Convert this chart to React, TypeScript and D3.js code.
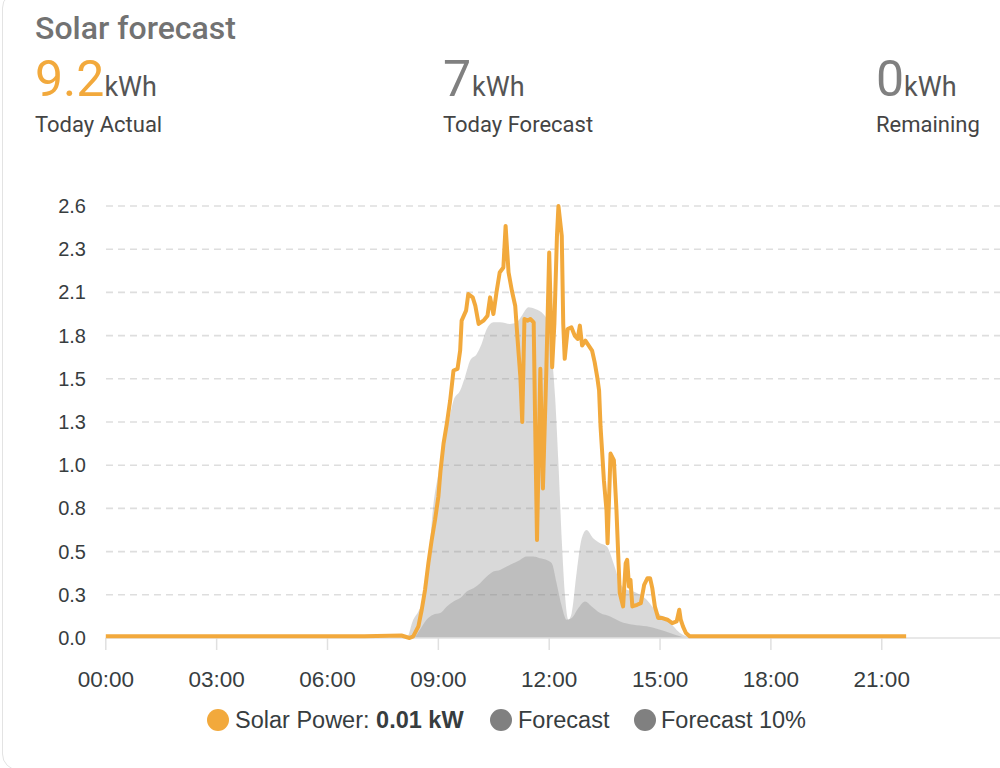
import * as d3 from 'd3';

// x-axis tick labels (every 3 hours)
const timeTicks = ['00:00', '03:00', '06:00', '09:00', '12:00', '15:00', '18:00', '21:00'];
// y-axis tick labels, bottom to top
const yTickLabels = ['0.0', '0.3', '0.5', '0.8', '1.0', '1.3', '1.5', '1.8', '2.1', '2.3', '2.6'];

// Solar Power (kW), time in decimal hours
const solarHours = [
  0, 1.5, 3, 4.5, 6, 7, 8, 8.22, 8.32, 8.46, 8.55, 8.64, 8.73, 8.82, 8.91, 9.0, 9.06, 9.14, 9.23,
  9.32, 9.41, 9.52, 9.59, 9.63, 9.75, 9.81, 9.93, 10.0, 10.09, 10.22, 10.33, 10.4, 10.49, 10.58,
  10.66, 10.76, 10.82, 10.9, 10.99, 11.08, 11.14, 11.22, 11.27, 11.33, 11.42, 11.49, 11.58, 11.62,
  11.67, 11.76, 11.83, 11.92, 12.0, 12.08, 12.14, 12.21, 12.25, 12.34, 12.38, 12.42, 12.5, 12.6,
  12.69, 12.77, 12.83, 12.89, 12.98, 13.07, 13.16, 13.23, 13.3, 13.35, 13.39, 13.43, 13.48, 13.55,
  13.58, 13.66, 13.75, 13.82, 13.87, 13.91, 14.0, 14.07, 14.11, 14.16, 14.2, 14.25, 14.38, 14.48,
  14.57, 14.66, 14.73, 14.79, 14.86, 14.95, 15.06, 15.2, 15.33, 15.45, 15.52, 15.56, 15.62, 15.7,
  15.8, 16.5, 18, 19.5, 21, 21.66,
];
const solarValues = [
  0.01, 0.01, 0.01, 0.01, 0.01, 0.01, 0.015, 0.0, 0.01, 0.07, 0.17, 0.29, 0.45, 0.59, 0.71, 0.85,
  1.01, 1.17, 1.29, 1.43, 1.61, 1.62, 1.73, 1.91, 1.97, 2.07, 2.05, 2.0, 1.89, 1.91, 1.94, 2.05,
  1.95, 2.09, 2.2, 2.23, 2.48, 2.2, 2.09, 2.0, 1.81, 1.57, 1.3, 1.92, 1.91, 1.92, 1.9, 1.29, 0.59,
  1.62, 0.9, 1.59, 2.32, 1.63, 1.89, 2.42, 2.6, 2.42, 1.89, 1.68, 1.86, 1.87, 1.82, 1.8, 1.88, 1.76,
  1.79, 1.76, 1.73, 1.66, 1.57, 1.49, 1.27, 1.13, 0.95, 0.77, 0.57, 1.11, 1.07, 0.77, 0.49, 0.27,
  0.19, 0.45, 0.47, 0.31, 0.35, 0.19, 0.2, 0.21, 0.32, 0.36, 0.36, 0.3, 0.19, 0.12, 0.12, 0.11,
  0.09, 0.1, 0.17, 0.11, 0.07, 0.03, 0.01, 0.01, 0.01, 0.01, 0.01, 0.01,
];

// Forecast (kW)
const forecastHours = [
  0, 8.0, 8.14, 8.32, 8.46, 8.59, 8.73, 8.86, 9.0, 9.14, 9.27, 9.41, 9.59, 9.72, 9.86, 10.04, 10.17,
  10.31, 10.49, 10.67, 10.94, 11.12, 11.26, 11.44, 11.62, 11.84, 11.98, 12.07, 12.16, 12.25, 12.34,
  12.43, 12.52, 12.61, 12.74, 12.88, 13.01, 13.19, 13.38, 13.56, 13.74, 13.92, 14.1, 14.28, 14.46,
  14.64, 14.82, 15.0, 15.18, 15.36, 15.54, 15.72, 15.85, 24,
];
const forecastValues = [
  0, 0, 0, 0.11, 0.16, 0.23, 0.45, 0.79, 0.99, 1.17, 1.29, 1.43, 1.49, 1.57, 1.67, 1.71, 1.77, 1.86,
  1.9, 1.9, 1.89, 1.9, 1.94, 1.99, 1.98, 1.95, 1.89, 1.71, 1.45, 1.05, 0.59, 0.25, 0.11, 0.15, 0.39,
  0.6, 0.65, 0.6, 0.57, 0.55, 0.45, 0.33, 0.29, 0.28, 0.26, 0.23, 0.18, 0.14, 0.12, 0.07, 0.03, 0.01,
  0, 0,
];

// Forecast 10% (kW)
const forecast10Hours = [
  0, 8.2, 8.32, 8.5, 8.68, 8.86, 9.05, 9.23, 9.41, 9.59, 9.77, 9.95, 10.13, 10.31, 10.49, 10.67,
  10.85, 11.03, 11.21, 11.39, 11.57, 11.75, 11.93, 12.07, 12.2, 12.34, 12.47, 12.61, 12.79, 12.97,
  13.15, 13.38, 13.65, 13.92, 14.28, 14.64, 15.0, 15.27, 15.54, 15.7, 24,
];
const forecast10Values = [
  0, 0, 0, 0.05, 0.11, 0.14, 0.15, 0.19, 0.22, 0.24, 0.28, 0.3, 0.33, 0.37, 0.4, 0.41, 0.43, 0.45,
  0.47, 0.49, 0.49, 0.48, 0.47, 0.45, 0.33, 0.19, 0.11, 0.12, 0.18, 0.22, 0.19, 0.15, 0.13, 0.1,
  0.08, 0.07, 0.05, 0.03, 0.01, 0, 0,
];

const ORANGE = '#f2a93c';
const FONT = 'Roboto, "Noto Sans", sans-serif';
const CHART_FONT = '"Liberation Sans", Arial, Helvetica, sans-serif';

const x = d3.scaleLinear().domain([0, 24]).range([105.8, 992.6]);
const y = d3.scaleLinear().domain([0, 2.6]).range([638, 206]);

type Pt = [number, number];
const zip = (hs: number[], vs: number[]): Pt[] => hs.map((h, i) => [h, vs[i]]);

export default function App() {
  const area = d3
    .area<Pt>()
    .x((d) => x(d[0]))
    .y0(y(0))
    .y1((d) => y(d[1]))
    .curve(d3.curveMonotoneX);

  const line = d3
    .line<Pt>()
    .x((d) => x(d[0]))
    .y((d) => y(d[1]))
    .curve(d3.curveLinear);

  const yTicks = yTickLabels.map((_, i) => (2.6 / 10) * i);

  return (
    <svg
      width={1000}
      height={768}
      style={{ position: 'absolute', left: 0, top: 0, fontFamily: FONT }}
    >
      <rect x={2.5} y={-8} width={1100} height={778} rx={16} fill="#fff" stroke="#e3e3e3" />

      {/* header */}
      <text x={35} y={39} fontSize={32} fontWeight={500} fill="#727272">
        Solar forecast
      </text>
      <text x={35} y={96} fill={ORANGE} fontSize={50}>
        9.2<tspan fontSize={27} fill="#555">kWh</tspan>
      </text>
      <text x={443} y={96} fill="#808080" fontSize={50}>
        7<tspan fontSize={27} fill="#555" dx={1}>kWh</tspan>
      </text>
      <text x={876} y={96} fill="#808080" fontSize={50}>
        0<tspan fontSize={27} fill="#555">kWh</tspan>
      </text>
      <text x={35} y={132} fontSize={22} fill="#444">Today Actual</text>
      <text x={443} y={132} fontSize={22} fill="#444">Today Forecast</text>
      <text x={876} y={132} fontSize={22} fill="#444">Remaining</text>

      {/* grid + y axis */}
      <g fontFamily={CHART_FONT}>
        {yTicks.map((v, i) => (
          <g key={i}>
            {i > 0 && (
              <line
                x1={106}
                x2={1000}
                y1={y(v)}
                y2={y(v)}
                stroke="#dedede"
                strokeWidth={1.6}
                strokeDasharray="7 5"
              />
            )}
            <text x={86} y={y(v) + 7} textAnchor="end" fontSize={20} fill="#373d3f">
              {yTickLabels[i]}
            </text>
          </g>
        ))}
      </g>

      {/* areas */}
      <path d={area(zip(forecastHours, forecastValues)) ?? ''} fill="#808080" fillOpacity={0.3} />
      <path d={area(zip(forecast10Hours, forecast10Values)) ?? ''} fill="#808080" fillOpacity={0.3} />

      {/* x axis */}
      <line x1={105.8} x2={1000} y1={y(0)} y2={y(0)} stroke="#e0e0e0" strokeWidth={1.5} />
      <g fontFamily={CHART_FONT}>
        {timeTicks.map((t, i) => (
          <g key={t} transform={`translate(${x(i * 3)},0)`}>
            <line y1={y(0)} y2={650} stroke="#e0e0e0" strokeWidth={1.5} />
            <text y={687} textAnchor="middle" fontSize={22.5} fill="#373d3f">
              {t}
            </text>
          </g>
        ))}
      </g>

      {/* solar power */}
      <path
        d={line(zip(solarHours, solarValues)) ?? ''}
        fill="none"
        stroke={ORANGE}
        strokeWidth={4}
        strokeLinejoin="round"
      />

      {/* legend */}
      <g fontSize={23.5} fill="#373d3f" fontFamily={CHART_FONT}>
        <circle cx={218} cy={720} r={11} fill={ORANGE} />
        <text x={235} y={728}>
          Solar Power: <tspan fontWeight={700}>0.01 kW</tspan>
        </text>
        <circle cx={501} cy={720} r={11} fill="#808080" />
        <text x={518} y={728}>Forecast</text>
        <circle cx={645} cy={720} r={11} fill="#808080" />
        <text x={661} y={728}>Forecast 10%</text>
      </g>
    </svg>
  );
}
